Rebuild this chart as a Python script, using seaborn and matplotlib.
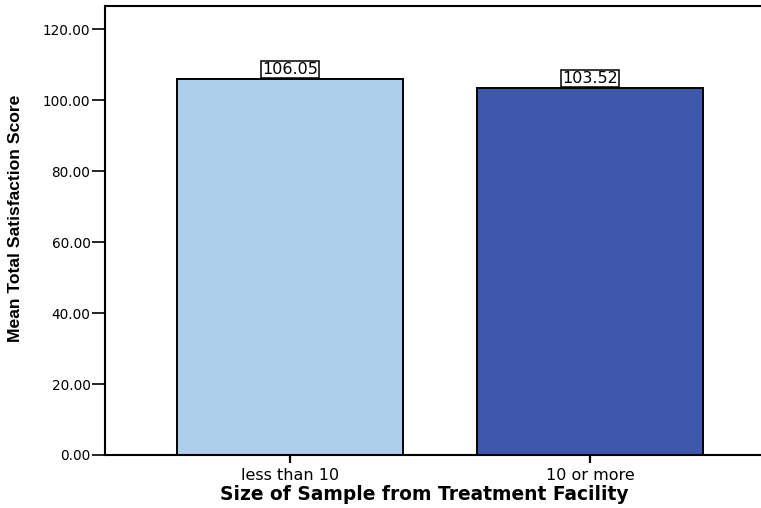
import matplotlib
matplotlib.use("Agg")
import matplotlib.pyplot as plt
import seaborn as sns
import pandas as pd

# Mean satisfaction score by facility sample size
categories = ["less than 10", "10 or more"]
mean_scores = [106.05, 103.52]
bar_colors = ["#AECFEC", "#3D58AB"]
y_ticks = [0, 20, 40, 60, 80, 100, 120]

sns.set_theme(style="white")
plt.rcParams["font.family"] = ["DejaVu Sans"]
plt.rcParams["text.color"] = "black"
plt.rcParams["axes.labelcolor"] = "black"
plt.rcParams["xtick.color"] = "black"
plt.rcParams["ytick.color"] = "black"

df = pd.DataFrame({"group": categories, "score": mean_scores})

fig = plt.figure(figsize=(7.61, 5.08), dpi=100)
W, H = 761, 508
left, right, top, bottom = 105, 775, 6, 455
ax = fig.add_axes([left / W, 1 - bottom / H, (right - left) / W, (bottom - top) / H])

sns.barplot(data=df, x="group", y="score", hue="group", palette=bar_colors,
            saturation=1, width=0.753, edgecolor="black", linewidth=1.4,
            legend=False, ax=ax, errorbar=None)

ax.set_xlim(-0.617, 1.617)
ax.set_ylim(0, 126.5)
ax.set_yticks(y_ticks)
ax.set_yticklabels([f"{v:.2f}" for v in y_ticks], fontsize=9.8)
ax.tick_params(axis="y", direction="out", length=9.5, width=1.2, left=True, pad=1)
ax.tick_params(axis="x", direction="out", length=6, width=1.6, bottom=True,
               labelsize=11.5, pad=3)

for s in ax.spines.values():
    s.set_color("black")
    s.set_linewidth(1.5)

# Value labels in boxes sitting on the bar tops
for i, v in enumerate(mean_scores):
    ax.annotate(f"{v:.2f}", xy=(i, v), xytext=(0, 1.2), textcoords="offset points",
                ha="center", va="bottom", fontsize=11.5,
                bbox=dict(boxstyle="square,pad=0.06", fc="white", ec="black", lw=1.1))

ax.set_xlabel("Size of Sample from Treatment Facility", fontsize=13.4, fontweight="bold")
ax.xaxis.set_label_coords((424.5 - left) / (right - left), -(485 - bottom) / (bottom - top))
ax.set_ylabel("Mean Total Satisfaction Score", fontsize=12.6, fontweight="bold",
              family=["Liberation Sans", "DejaVu Sans"])
ax.yaxis.set_label_coords((23 - left) / (right - left), (bottom - 218) / (bottom - top))

fig.savefig("out.png", dpi=100)
